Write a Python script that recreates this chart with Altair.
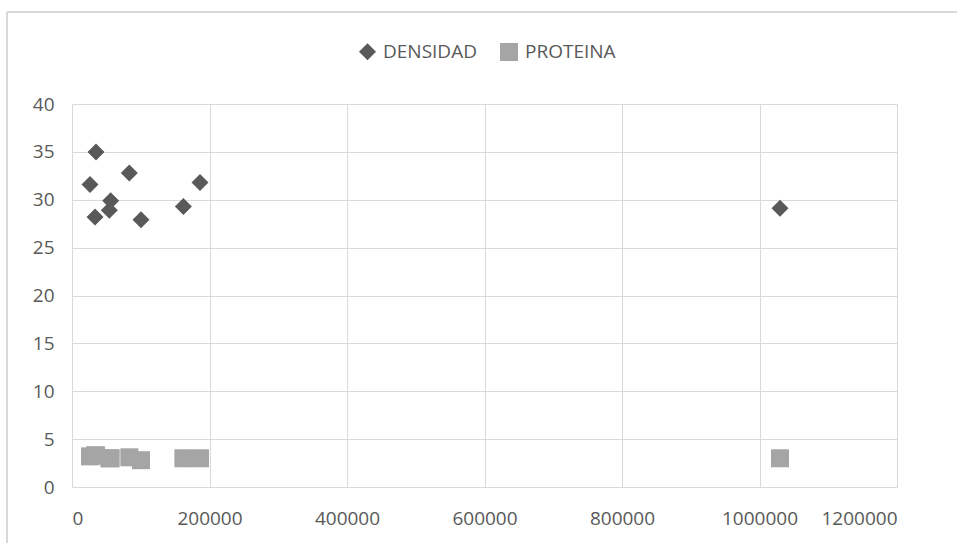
import altair as alt
import pandas as pd

x_vals = [26200, 33500, 34900, 54300, 56300, 83400, 100400, 162000, 186200, 1029800]
densidad = [31.6, 28.2, 35.0, 28.9, 29.9, 32.8, 27.9, 29.3, 31.8, 29.1]
proteina = [3.2, 3.3, 3.3, 3.0, 3.0, 3.1, 2.8, 3.0, 3.0, 3.0]
series = ["DENSIDAD", "PROTEINA"]
x_ticks = [0, 200000, 400000, 600000, 800000, 1000000, 1200000]
y_ticks = [0, 5, 10, 15, 20, 25, 30, 35, 40]

rows = []
for xv, d in zip(x_vals, densidad):
    rows.append({"x": xv, "y": d, "serie": "DENSIDAD"})
for xv, p in zip(x_vals, proteina):
    rows.append({"x": xv, "y": p, "serie": "PROTEINA"})
df = pd.DataFrame(rows)

FONT = "Open Sans"
TXT = "#595959"

leg = alt.Legend(title=None, orient="none", direction="horizontal",
                 legendX=286, legendY=-62)

points = alt.Chart(df).mark_point(filled=True, opacity=1).encode(
    x=alt.X("x:Q", scale=alt.Scale(domain=[0, 1200000], nice=False),
            axis=alt.Axis(values=x_ticks, format="d", title=None)),
    y=alt.Y("y:Q", scale=alt.Scale(domain=[0, 40], nice=False),
            axis=alt.Axis(values=y_ticks, title=None)),
    color=alt.Color("serie:N", scale=alt.Scale(domain=series, range=["#595959", "#A5A5A5"]),
                    legend=leg),
    shape=alt.Shape("serie:N", scale=alt.Scale(domain=series, range=["diamond", "square"]),
                    legend=leg),
    size=alt.Size("serie:N", scale=alt.Scale(domain=series, range=[289, 324]),
                  legend=None),
)

frame_top = alt.Chart(df).mark_rule(color="#D9D9D9", strokeWidth=1.5).encode(
    x=alt.value(-65), x2=alt.value(900), y=alt.value(-92)
)
frame_left = alt.Chart(df).mark_rule(color="#D9D9D9", strokeWidth=1.5).encode(
    x=alt.value(-65), y=alt.value(-92), y2=alt.value(460)
)

chart = alt.layer(frame_top, frame_left, points).properties(
    width=825, height=383,
    autosize=alt.AutoSizeParams(type="none"),
    padding={"left": 72, "top": 104, "right": 60, "bottom": 56},
    background="white",
).configure_view(stroke=None).configure_axis(
    domain=False, ticks=False, grid=True, gridColor="#D9D9D9", gridWidth=1,
    labelFont=FONT, labelFontSize=19, labelColor=TXT,
).configure_axisX(labelPadding=22).configure_axisY(labelPadding=18).configure_legend(
    labelFont=FONT, labelFontSize=19, labelColor=TXT, symbolSize=170,
    columnPadding=22, labelOffset=6,
)

chart.save("out.html", embed_options={"renderer": "svg", "actions": False})
